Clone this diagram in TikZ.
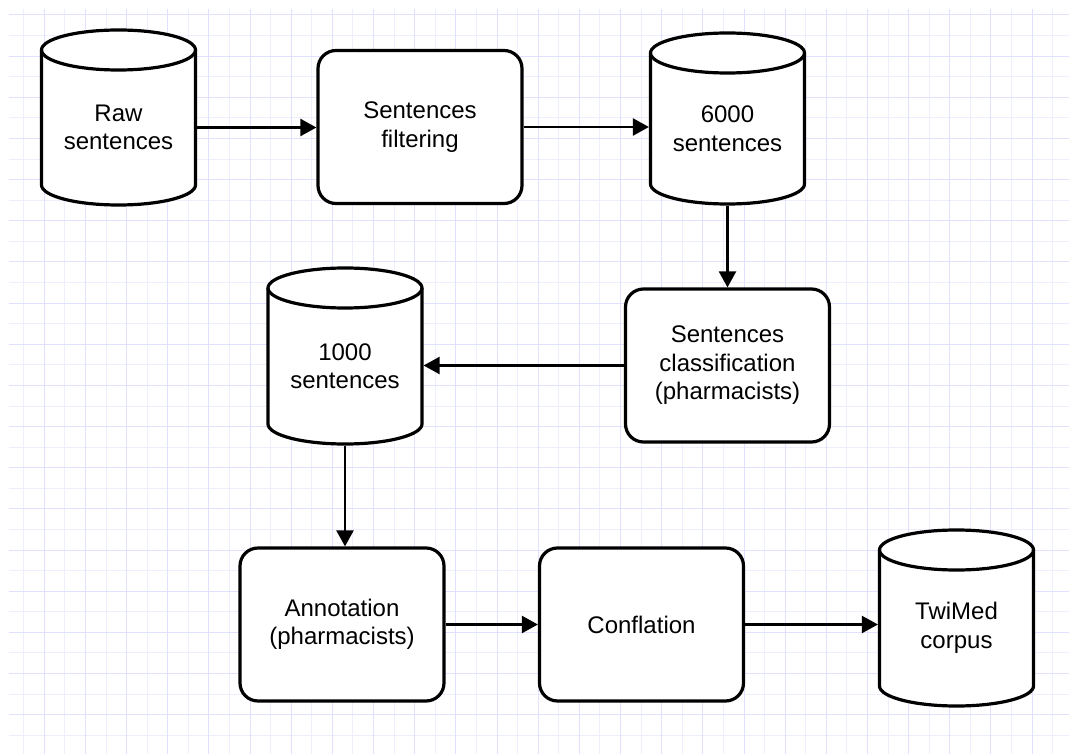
\documentclass[tikz,border=0pt]{standalone}
\usepackage{fontspec}
\setmainfont{Liberation Sans}
\usetikzlibrary{arrows.meta,calc}

\definecolor{gridminor}{RGB}{238,238,255}
\definecolor{gridmajor}{RGB}{224,224,255}

\pgfdeclarelayer{paper}
\pgfdeclarelayer{outline}
\pgfsetlayers{paper,outline,main}

\tikzset{
  label font/.style={font=\fontsize{24}{28.5}\selectfont, align=center, text=black},
  procbox/.style={label font, draw=black, line width=3.2pt, rounded corners=18pt,
    fill=white, minimum width=204pt, minimum height=153pt, inner sep=0pt},
  dbbody/.style={label font, minimum width=154pt, inner sep=0pt, outer sep=1.6pt},
  dbline/.style={draw=black, line width=3.2pt, fill=white},
  flow/.style={line width=2.3pt, -{Triangle[length=16pt,width=17pt]}},
  gridline/.style={line width=1pt},
}

% cylinder outline around a body node; top ellipse centred on the node's north side
\newcommand\dbshape[1]{%
  \begin{pgfonlayer}{outline}
    \draw[dbline] let \p1=(#1.north west), \p2=(#1.south east) in
      (\x1+1.6pt,\y1-1.6pt) -- (\x1+1.6pt,\y2+21.6pt)
        arc[start angle=180,end angle=360,x radius=77pt,y radius=20pt]
        -- (\x2-1.6pt,\y1-1.6pt)
        arc[start angle=0,end angle=180,x radius=77pt,y radius=20pt] -- cycle;
    \draw[dbline, fill=none] let \p1=(#1.north west) in
      (\x1+1.6pt,\y1-1.6pt) arc[start angle=180,end angle=360,x radius=77pt,y radius=20pt];
  \end{pgfonlayer}}

\begin{document}
\begin{tikzpicture}[x=1pt,y=-1pt]
  \useasboundingbox (0,0) rectangle (1069,754);

  % squared paper
  \begin{pgfonlayer}{paper}
    \fill[white] (0,0) rectangle (1069,754);
    \begin{scope}
      \clip (9,9) rectangle (1069,754);
      \foreach \k in {0,...,51}
        \draw[gridline, gridminor] ({23.7+\k*20.58},9) -- ({23.7+\k*20.58},754);
      \foreach \k in {0,...,36}
        \draw[gridline, gridminor] (9,{15+\k*20.58}) -- (1069,{15+\k*20.58});
      \foreach \k in {0,...,25}
        \draw[gridline, gridmajor] ({44.3+\k*41.16},9) -- ({44.3+\k*41.16},754);
      \foreach \k in {0,...,18}
        \draw[gridline, gridmajor] (9,{15+\k*41.16}) -- (1069,{15+\k*41.16});
    \end{scope}
  \end{pgfonlayer}

  % stores and steps
  \node[dbbody, minimum height=155pt] (raw) at (118.5,127.5) {Raw\\sentences};
  \dbshape{raw}
  \node[procbox] (filter) at (420,127) {Sentences\\filtering};
  \node[dbbody, minimum height=151pt] (db6000) at (727.5,128.5) {6000\\sentences};
  \dbshape{db6000}
  \node[procbox] (class) at (727.5,365.5) {Sentences\\classification\\(pharmacists)};
  \node[dbbody, minimum height=156pt] (db1000) at (345,366) {1000\\sentences};
  \dbshape{db1000}
  \node[procbox] (annot) at (342,624.5) {Annotation\\(pharmacists)};
  \node[procbox] (confl) at (641.5,624.5) {Conflation};
  \node[dbbody, minimum height=156pt] (twimed) at (956.5,628) {TwiMed\\corpus};
  \dbshape{twimed}

  % flow
  \draw[flow] (raw.east) -- (raw.east -| filter.west);
  \draw[flow] (filter.east) -- (filter.east -| db6000.west);
  \draw[flow] (db6000.south) -- (db6000.south |- class.north);
  \draw[flow] (class.west) -- (class.west -| db1000.east);
  \draw[flow] (db1000.south) -- (db1000.south |- annot.north);
  \draw[flow] (annot.east) -- (annot.east -| confl.west);
  \draw[flow] (confl.east) -- (confl.east -| twimed.west);
\end{tikzpicture}
\end{document}
